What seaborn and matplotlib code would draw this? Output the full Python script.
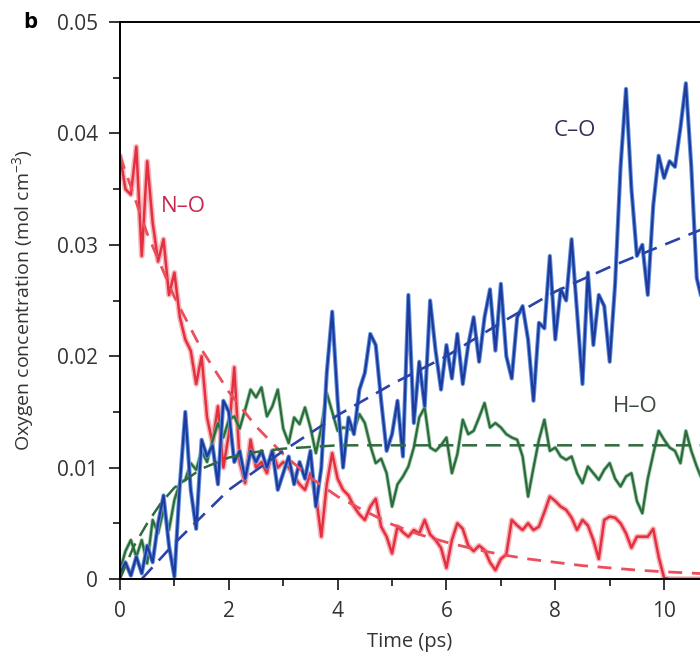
import numpy as np
import pandas as pd
import matplotlib
matplotlib.use("Agg")
import matplotlib.pyplot as plt
import matplotlib.patheffects as pe
import seaborn as sns

# ---------------- data (concentration in 1e-3 mol cm^-3) ----------------
time = np.round(np.arange(0, 10.75, 0.1), 1)  # ps

co_vals = [0.5, 1.5, 0.3, 2.0, 0.5, 3.0, 1.5, 5.0, 7.5, 3.0,
           0.2, 8.5, 15.0, 8.0, 4.5, 12.5, 11.0, 12.0, 8.5, 16.0,
           15.0, 10.5, 11.5, 9.0, 11.5, 10.5, 11.5, 10.0, 11.5, 8.0,
           9.5, 11.0, 8.5, 10.5, 9.0, 11.5, 6.5, 10.0, 18.5, 24.0,
           16.0, 10.0, 14.5, 13.0, 17.0, 18.5, 22.0, 21.0, 16.0, 11.5,
           13.0, 16.0, 11.0, 25.5, 14.0, 19.5, 15.5, 25.0, 20.5, 17.0,
           21.0, 18.0, 22.0, 17.5, 21.0, 23.5, 19.5, 23.5, 26.0, 20.5,
           26.5, 20.0, 18.0, 23.5, 24.5, 21.5, 16.0, 23.0, 22.5, 29.0,
           21.5, 26.0, 25.0, 30.5, 24.0, 17.5, 27.5, 21.0, 25.5, 24.5,
           19.5, 26.5, 37.0, 44.0, 35.0, 29.0, 30.0, 25.5, 33.5, 38.0,
           36.0, 37.5, 37.0, 40.5, 44.5, 37.0, 27.0, 25.0]

ho_vals = [0.8, 2.5, 3.5, 2.0, 3.5, 1.4, 5.3, 4.1, 6.2, 4.4,
           7.1, 8.6, 8.9, 10.4, 9.8, 11.5, 10.5, 12.4, 14.0, 12.7,
           14.3, 14.6, 13.5, 15.2, 17.0, 16.3, 17.2, 14.6, 15.5, 17.0,
           13.5, 12.2, 14.5, 13.9, 15.4, 13.6, 11.3, 13.6, 16.7, 15.0,
           13.3, 13.6, 13.5, 13.3, 14.8, 14.0, 12.0, 10.4, 10.8, 9.5,
           6.5, 8.5, 9.2, 10.1, 11.8, 14.5, 15.4, 11.8, 11.5, 12.0,
           12.7, 9.5, 11.2, 14.3, 13.0, 13.3, 14.5, 15.8, 13.6, 14.0,
           13.6, 13.0, 12.7, 12.5, 11.0, 7.4, 10.0, 12.5, 14.3, 11.5,
           11.8, 11.0, 10.7, 11.0, 9.5, 8.6, 10.1, 9.5, 8.9, 9.8,
           10.4, 9.0, 8.3, 9.2, 9.5, 7.0, 5.9, 9.0, 11.2, 13.3,
           12.5, 11.8, 11.5, 10.4, 13.3, 11.5, 10.1, 8.9]

no_vals = [38.0, 35.0, 34.5, 38.8, 29.0, 37.5, 32.0, 28.5, 30.5, 25.5,
           27.5, 23.5, 21.5, 20.5, 17.5, 20.0, 14.5, 12.2, 15.5, 10.0,
           13.0, 19.0, 10.5, 8.6, 12.5, 10.0, 10.5, 9.5, 11.5, 10.0,
           10.5, 10.0, 9.2, 8.5, 8.0, 9.5, 7.5, 3.8, 8.5, 11.3,
           9.0, 8.0, 7.5, 6.5, 5.8, 5.3, 6.5, 7.2, 4.7, 3.8,
           2.3, 4.7, 4.2, 3.8, 4.4, 4.1, 5.3, 4.0, 3.5, 2.8,
           1.0, 3.5, 5.0, 4.5, 3.0, 2.5, 3.0, 2.6, 1.5, 0.8,
           1.8, 2.2, 5.3, 4.8, 4.4, 5.0, 4.4, 4.7, 6.0, 7.4,
           7.0, 6.5, 6.2, 5.5, 4.4, 5.3, 4.8, 3.5, 1.8, 5.3,
           5.6, 5.5, 5.0, 4.1, 2.8, 3.8, 3.8, 3.8, 4.5, 2.0,
           0.1, 0.0, 0.0, 0.0, 0.0, 0.0, 0.0, 0.0]

# fitted (dashed) curves
co_fit_t = [0.4, 1.0, 2.0, 3.0, 4.0, 5.0, 6.0, 7.0, 8.0, 9.0, 10.0, 10.7]
co_fit_v = [0.0, 3.2, 8.0, 11.5, 14.7, 17.5, 20.0, 23.0, 25.8, 28.0, 30.0, 31.4]

ho_fit_t = [0.0, 0.25, 0.5, 0.75, 1.0, 1.5, 2.0, 2.5, 3.0, 4.0, 10.7]
ho_fit_v = [0.0, 2.9, 5.0, 6.8, 8.2, 9.9, 10.9, 11.4, 11.7, 12.0, 12.0]

no_fit_t = [0.0, 0.5, 1.0, 1.5, 2.0, 2.5, 3.0, 3.5, 4.0, 4.5, 5.0, 5.5,
            6.0, 6.5, 7.0, 7.5, 8.0, 8.5, 9.0, 9.5, 10.0, 10.5, 10.7]
no_fit_v = [38.0, 31.0, 25.3, 20.6, 16.8, 13.7, 11.2, 9.1, 7.4, 6.1, 4.9, 4.0,
            3.3, 2.7, 2.2, 1.8, 1.5, 1.2, 1.0, 0.8, 0.65, 0.53, 0.48]

labels = ["N\u2013O", "C\u2013O", "H\u2013O"]
x_ticks = [0, 2, 4, 6, 8, 10]
y_ticks = [0, 0.01, 0.02, 0.03, 0.04, 0.05]
y_tick_labels = ["0", "0.01", "0.02", "0.03", "0.04", "0.05"]

# ---------------- build data frames ----------------
scale = 1e-3
df = pd.DataFrame({"t": time,
                   "CO": np.array(co_vals) * scale,
                   "HO": np.array(ho_vals) * scale,
                   "NO": np.array(no_vals) * scale})
df_cofit = pd.DataFrame({"t": co_fit_t, "v": np.array(co_fit_v) * scale})
df_hofit = pd.DataFrame({"t": ho_fit_t, "v": np.array(ho_fit_v) * scale})
df_nofit = pd.DataFrame({"t": no_fit_t, "v": np.array(no_fit_v) * scale})

# ---------------- style ----------------
sns.set_style("ticks")
plt.rcParams['font.family'] = ['Open Sans', 'DejaVu Sans']
plt.rcParams['mathtext.fontset'] = 'custom'
plt.rcParams['mathtext.rm'] = 'Open Sans'

fig = plt.figure(figsize=(7.0, 6.52), dpi=100)
ax = fig.add_axes([120 / 700, 1 - 579 / 652, 1 - 120 / 700, (579 - 22) / 652])

red = "#e4303e"
red_glow = "#f6a3ab"
blue = "#1f3a9c"
blue_glow = "#5d92dc"
green = "#2b6c3c"
green_glow = "#7fb58a"

# solid noisy curves
sns.lineplot(data=df, x="t", y="NO", ax=ax, color=red, linewidth=1.8,
             path_effects=[pe.Stroke(linewidth=4.0, foreground=red_glow, alpha=0.8), pe.Normal()])
sns.lineplot(data=df, x="t", y="HO", ax=ax, color=green, linewidth=1.6,
             path_effects=[pe.Stroke(linewidth=2.8, foreground=green_glow, alpha=0.7), pe.Normal()])
sns.lineplot(data=df, x="t", y="CO", ax=ax, color=blue, linewidth=1.6,
             path_effects=[pe.Stroke(linewidth=3.0, foreground=blue_glow), pe.Normal()])

# dashed fits
sns.lineplot(data=df_nofit, x="t", y="v", ax=ax, color="#ea4f5c", linewidth=2.0,
             linestyle=(0, (5, 3.5)))
sns.lineplot(data=df_hofit, x="t", y="v", ax=ax, color="#2f6a3e", linewidth=1.8,
             linestyle=(0, (6, 3.5)))
sns.lineplot(data=df_cofit, x="t", y="v", ax=ax, color="#2a43a8", linewidth=1.9,
             linestyle=(0, (6, 3.5)))

# curve labels
ax.text(1.16, 0.0334, labels[0], color="#c8264e", fontsize=16, ha="center", va="center")
ax.text(8.36, 0.0403, labels[1], color="#2f2f5a", fontsize=16, ha="center", va="center")
ax.text(9.47, 0.0155, labels[2], color="#3a4a3e", fontsize=16, ha="center", va="center")

# axes
ax.set_xlim(0, 10.66)
ax.set_ylim(0, 0.05)
ax.set_xticks(x_ticks)
ax.set_xticklabels([str(v) for v in x_ticks])
ax.set_xticks(np.arange(1, 11, 2), minor=True)
ax.set_yticks(y_ticks)
ax.set_yticklabels(y_tick_labels)
ax.set_yticks(np.arange(0.005, 0.05, 0.01), minor=True)
ax.tick_params(which="major", length=8, width=1.3, direction="out",
               labelsize=15, labelcolor="#333333")
ax.tick_params(axis="x", which="major", pad=8)
ax.tick_params(axis="y", which="major", pad=8)
ax.tick_params(which="minor", length=5, width=1.3, direction="out")
for s in ["left", "bottom", "top"]:
    ax.spines[s].set_visible(True)
    ax.spines[s].set_linewidth(1.4)
    ax.spines[s].set_color("black")
ax.spines["right"].set_visible(False)

ax.set_xlabel("Time (ps)", fontsize=14.5, color="#333333", labelpad=7)
ax.set_ylabel("Oxygen concentration (mol cm$^{-3}$)", fontsize=14, color="#333333", labelpad=14)
ax.set_facecolor("white")

fig.text(30 / 700, 1 - 22 / 652, "b", fontsize=16, fontweight="bold",
         ha="center", va="center", color="black")

fig.savefig("out.png", dpi=100, facecolor="white")
